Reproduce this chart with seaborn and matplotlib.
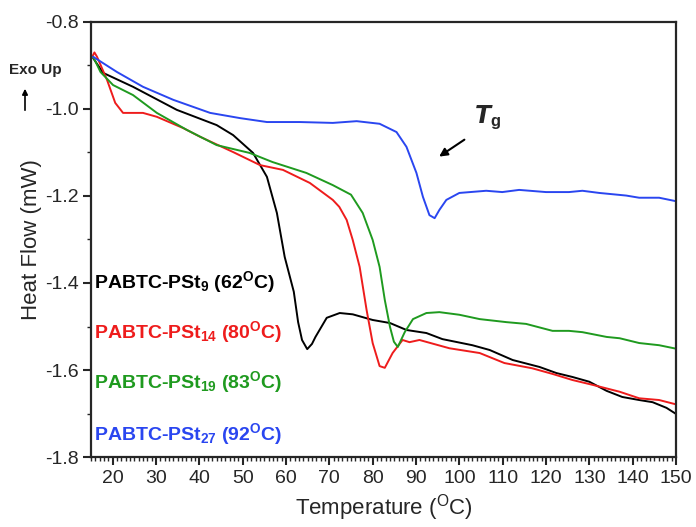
import matplotlib
matplotlib.use("Agg")
import matplotlib.pyplot as plt
import seaborn as sns
import numpy as np
from matplotlib.ticker import MultipleLocator

sns.set_style("ticks")
plt.rcParams['font.family'] = ['Liberation Sans', 'DejaVu Sans']
plt.rcParams['axes.unicode_minus'] = False
plt.rcParams['mathtext.fontset'] = 'custom'
plt.rcParams['mathtext.rm'] = 'Liberation Sans'
plt.rcParams['mathtext.bf'] = 'Liberation Sans:bold'
plt.rcParams['mathtext.it'] = 'Liberation Sans:italic'

# ---- data ----
black_T = [15.5, 17.8, 24.7, 34.8, 44, 47.8, 52.4, 55.6, 57.9, 59.7, 61.8, 62.8, 63.7, 64.9, 66.0,
           66.8, 69.4, 72.4, 75.4, 80, 84, 87.8, 92.4, 96.1, 103, 107, 112.3, 118.5, 122.4, 126.1,
           130, 134, 137.6, 141.5, 144.6, 147.8, 150]
black_y = [-0.883, -0.917, -0.949, -1.002, -1.037, -1.06, -1.101, -1.156, -1.239, -1.340, -1.42,
           -1.49, -1.531, -1.552, -1.540, -1.524, -1.480, -1.469, -1.472, -1.485, -1.492, -1.508,
           -1.515, -1.529, -1.543, -1.554, -1.577, -1.593, -1.607, -1.616, -1.627, -1.648, -1.662,
           -1.669, -1.674, -1.687, -1.701]

red_T = [15.4, 15.8, 16.4, 18.7, 20.6, 22.4, 27, 30.2, 36.3, 40.2, 47.8, 54, 59.3, 65.5, 70.8,
         72.3, 74, 75.4, 77, 78.6, 80, 81.6, 82.8, 84.6, 86.9, 88.5, 90.8, 97.7, 104.7, 110.4,
         116.8, 121.5, 126.1, 130.7, 137, 141.5, 146.1, 150]
red_y = [-0.878, -0.870, -0.880, -0.933, -0.986, -1.009, -1.009, -1.018, -1.044, -1.064, -1.099,
         -1.129, -1.140, -1.170, -1.209, -1.225, -1.255, -1.301, -1.363, -1.462, -1.538, -1.591,
         -1.595, -1.561, -1.531, -1.536, -1.531, -1.550, -1.561, -1.584, -1.596, -1.609, -1.623,
         -1.634, -1.650, -1.665, -1.669, -1.679]

green_T = [15.5, 17.2, 20.1, 24.7, 30.2, 37.1, 44, 51.6, 56.9, 64.7, 70.8, 75.0, 77.7, 80, 81.6,
           82.8, 84, 84.9, 85.8, 87.4, 89.3, 92.4, 95.4, 100, 104.7, 110.9, 115.4, 121.5, 125.3,
           128.4, 134, 137, 141.5, 146.1, 150]
green_y = [-0.880, -0.915, -0.945, -0.968, -1.009, -1.048, -1.083, -1.101, -1.122, -1.147, -1.175,
           -1.197, -1.239, -1.301, -1.363, -1.439, -1.501, -1.535, -1.547, -1.513, -1.483, -1.469,
           -1.467, -1.473, -1.483, -1.490, -1.494, -1.510, -1.510, -1.513, -1.524, -1.527, -1.538,
           -1.543, -1.551]

blue_T = [15.5, 21, 27, 34, 42.5, 49.4, 55.6, 63.2, 70.8, 76.3, 81.6, 85.5, 87.8, 90.1, 91.6,
          93.1, 94.3, 95.4, 97, 100, 106.2, 109.9, 113.8, 120, 125.3, 128.4, 132.3, 138.5, 141.5,
          146.1, 150]
blue_y = [-0.880, -0.915, -0.949, -0.979, -1.009, -1.021, -1.030, -1.030, -1.032, -1.028, -1.034,
          -1.053, -1.087, -1.147, -1.202, -1.244, -1.251, -1.232, -1.209, -1.193, -1.188, -1.191,
          -1.186, -1.191, -1.191, -1.188, -1.193, -1.199, -1.204, -1.204, -1.212]

labels = [r'PABTC-PSt$_{\mathbf{9}}$ (62$^{\mathbf{O}}$C)',
          r'PABTC-PSt$_{\mathbf{14}}$ (80$^{\mathbf{O}}$C)',
          r'PABTC-PSt$_{\mathbf{19}}$ (83$^{\mathbf{O}}$C)',
          r'PABTC-PSt$_{\mathbf{27}}$ (92$^{\mathbf{O}}$C)']
colors = ['#000000', '#ee1c1c', '#1f9a1f', '#2a46f0']
series = [(black_T, black_y), (red_T, red_y), (green_T, green_y), (blue_T, blue_y)]

fig = plt.figure(figsize=(6.96, 5.27), dpi=100)
ax = fig.add_axes([0.1307, 0.1328, 0.9713 - 0.1307, 0.9583 - 0.1328])

for (T, y), c in zip(series, colors):
    sns.lineplot(x=T, y=y, ax=ax, color=c, linewidth=1.4, sort=False)

ax.set_xlim(15, 150)
ax.set_ylim(-1.8, -0.8)
ax.xaxis.set_major_locator(MultipleLocator(10))
ax.xaxis.set_minor_locator(MultipleLocator(1))
ax.yaxis.set_major_locator(MultipleLocator(0.2))
ax.yaxis.set_minor_locator(MultipleLocator(0.1))
ax.set_xticks(np.arange(20, 151, 10))
ax.tick_params(axis='both', which='major', labelsize=14, length=6, width=1.5, direction='out', pad=3)
ax.tick_params(axis='both', which='minor', length=3, width=1.0, direction='out')
for s in ax.spines.values():
    s.set_linewidth(1.6)
ax.set_xlabel('Temperature ($^{\\mathrm{O}}$C)', fontsize=16, labelpad=4)
ax.set_ylabel('Heat Flow (mW)', fontsize=16, labelpad=2)

ys = [-1.4115, -1.5264, -1.6414, -1.761]
for lab, c, yy in zip(labels, colors, ys):
    ax.text(15.6, yy, lab, color=c, fontsize=14, fontweight='bold', va='baseline', ha='left')

fig.text(9 / 696, 1 - 70 / 527, 'Exo Up', fontsize=11, fontweight='bold', ha='left', va='center')
fig.add_artist(matplotlib.patches.FancyArrowPatch((25 / 696, 1 - 113 / 527), (25 / 696, 1 - 86 / 527),
               transform=fig.transFigure, arrowstyle='-|>', mutation_scale=8, color='black', lw=1.2))

ax.text(103.3, -1.021, r'$\mathbfit{T}_{\mathbf{g}}$', fontsize=17, ha='left', va='center')
ax.annotate('', xy=(94.8, -1.113), xytext=(101.7, -1.067),
            arrowprops=dict(arrowstyle='-|>', color='black', lw=1.5, mutation_scale=12))

fig.savefig('out.png', dpi=100)
